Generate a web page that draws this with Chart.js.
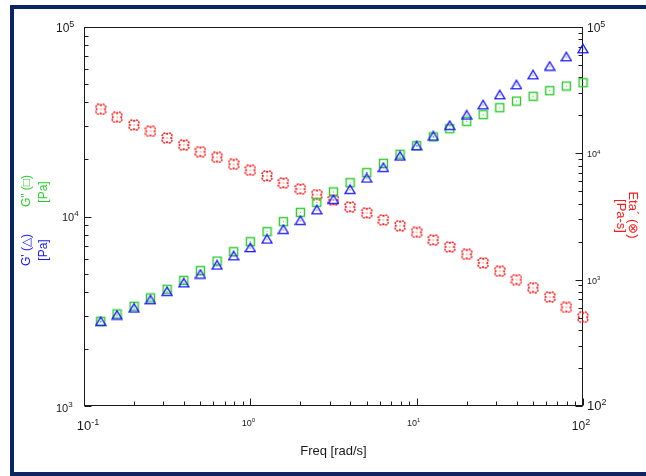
<!DOCTYPE html>
<html>
<head>
<meta charset="utf-8">
<script src="https://cdn.jsdelivr.net/npm/chart.js@4.4.0/dist/chart.umd.min.js"></script>
<style>
    html, body { margin: 0; padding: 0; background: #ffffff; }
    #grafico { display: block; }
</style>
</head>
<body>
<canvas id="grafico" width="646" height="476"></canvas>
<script>
// dados
const frequencias = [0.126, 0.158, 0.2, 0.251, 0.316, 0.398, 0.501, 0.631, 0.794, 1.0,
    1.26, 1.58, 2.0, 2.51, 3.16, 3.98, 5.01, 6.31, 7.94, 10,
    12.6, 15.8, 20, 25.1, 31.6, 39.8, 50.1, 63.1, 79.4, 100];

const gLinha = [2800, 3020, 3290, 3640, 4030, 4470, 4970, 5550, 6210, 6860,
    7610, 8560, 9550, 10860, 12330, 13920, 15970, 18190, 20860, 23640,
    26600, 30290, 34330, 38900, 43950, 49630, 56000, 62250, 69720, 76850];

const gDuasLinhas = [2800, 3060, 3360, 3715, 4130, 4605, 5180, 5820, 6520, 7360,
    8320, 9390, 10520, 11880, 13470, 15080, 17030, 19080, 21290, 23640,
    26290, 29050, 31790, 34470, 37510, 40660, 43080, 46100, 48820, 50820];

const eta = [22300, 19300, 16760, 14950, 13230, 11640, 10300, 9300, 8190, 7340,
    6620, 5820, 5220, 4710, 4270, 3760, 3370, 2970, 2670, 2370,
    2060, 1815, 1588, 1355, 1165, 1000, 864, 729, 604, 504];

const ticksX = [0.1, 1, 10, 100];
const ticksEsquerda = [1000, 10000, 100000];
const ticksDireita = [100, 1000, 10000, 100000];

const AZUL = "#1414ff";
const VERDE = "#2ccc2c";
const VERMELHO = "#ff1a1a";
const MARINHO = "#0b2462";
const FONTE = "'Liberation Sans', Arial, sans-serif";

function pontos(valores) {
    return frequencias.map(function (f, i) {
        return { x: f, y: valores[i] };
    });
}

// simbolos dos pontos
function criarTriangulo() {
    const c = document.createElement("canvas");
    c.width = 12;
    c.height = 11;
    const ctx = c.getContext("2d");
    ctx.strokeStyle = AZUL;
    ctx.lineWidth = 1.3;
    ctx.beginPath();
    ctx.moveTo(6, 1.2);
    ctx.lineTo(1, 9.6);
    ctx.lineTo(11, 9.6);
    ctx.closePath();
    ctx.stroke();
    ctx.fillStyle = AZUL;
    ctx.fillRect(5.5, 5.5, 1, 1);
    return c;
}

function criarQuadrado() {
    const c = document.createElement("canvas");
    c.width = 11;
    c.height = 11;
    const ctx = c.getContext("2d");
    ctx.strokeStyle = VERDE;
    ctx.lineWidth = 1.4;
    ctx.strokeRect(1.5, 1.5, 8, 8);
    ctx.fillStyle = VERDE;
    ctx.fillRect(5, 5, 1, 1);
    return c;
}

function criarTrevo() {
    const c = document.createElement("canvas");
    c.width = 12;
    c.height = 12;
    const ctx = c.getContext("2d");
    ctx.strokeStyle = VERMELHO;
    ctx.lineWidth = 1.5;
    ctx.setLineDash([2, 0.8]);
    const d = 2.1;
    const r = 2.8;
    const meio = Math.sqrt(r * r - d * d);
    const delta = Math.atan2(d + meio, d) - Math.PI / 4 + Math.PI / 2;
    ctx.beginPath();
    [Math.PI / 4, 3 * Math.PI / 4, 5 * Math.PI / 4, 7 * Math.PI / 4].forEach(function (fi) {
        const cx = 6 + Math.cos(fi) * d * Math.SQRT2;
        const cy = 6 + Math.sin(fi) * d * Math.SQRT2;
        ctx.moveTo(cx + r * Math.cos(fi - delta), cy + r * Math.sin(fi - delta));
        ctx.arc(cx, cy, r, fi - delta, fi + delta);
    });
    ctx.stroke();
    ctx.fillStyle = VERMELHO;
    ctx.fillRect(5.5, 5.5, 1, 1);
    return c;
}

function desenharPotencia(ctx, expoente, x, baseLinha, tamanho, alinhamento) {
    const base = "10";
    const sup = String(expoente);
    const tamanhoSup = Math.round(tamanho * 0.72);
    ctx.font = tamanho + "px " + FONTE;
    const larguraBase = ctx.measureText(base).width;
    ctx.font = tamanhoSup + "px " + FONTE;
    const larguraSup = ctx.measureText(sup).width;
    const total = larguraBase + larguraSup;
    let inicio = x;
    if (alinhamento === "center") {
        inicio = x - total / 2;
    } else if (alinhamento === "right") {
        inicio = x - total;
    }
    ctx.textAlign = "left";
    ctx.textBaseline = "alphabetic";
    ctx.font = tamanho + "px " + FONTE;
    ctx.fillText(base, inicio, baseLinha);
    ctx.font = tamanhoSup + "px " + FONTE;
    ctx.fillText(sup, inicio + larguraBase, baseLinha - tamanho * 0.42);
}

function menores(min, max) {
    const lista = [];
    for (let p = Math.round(Math.log10(min)); p < Math.round(Math.log10(max)); p++) {
        for (let k = 2; k <= 9; k++) {
            lista.push(k * Math.pow(10, p));
        }
    }
    return lista;
}

function textoVertical(ctx, texto, x, y, angulo, cor, tamanho) {
    ctx.save();
    ctx.translate(x, y);
    ctx.rotate(angulo);
    ctx.fillStyle = cor;
    ctx.font = tamanho + "px " + FONTE;
    ctx.textAlign = "center";
    ctx.textBaseline = "middle";
    ctx.fillText(texto, 0, 0);
    ctx.restore();
}

const moldura = {
    id: "moldura",
    beforeDraw: function (chart) {
        const ctx = chart.ctx;
        ctx.save();
        ctx.fillStyle = "#ffffff";
        ctx.fillRect(0, 0, chart.width, chart.height);
        ctx.fillStyle = MARINHO;
        ctx.fillRect(10, 5, chart.width - 10, 4);
        ctx.fillRect(10, 5, 4, chart.height - 5);
        ctx.fillRect(10, chart.height - 4, chart.width - 10, 4);
        ctx.restore();
    },
    beforeDatasetsDraw: function (chart) {
        const ctx = chart.ctx;
        const area = chart.chartArea;
        const sx = chart.scales.x;
        const sy = chart.scales.y;
        const sy2 = chart.scales.y2;
        const esq = Math.round(area.left) + 0.5;
        const dir = Math.round(area.right) - 0.5;
        const topo = Math.round(area.top) + 0.5;
        const baixo = Math.round(area.bottom) - 0.5;

        ctx.save();
        ctx.strokeStyle = "#1a1a1a";
        ctx.lineWidth = 1;
        ctx.strokeRect(esq, topo, dir - esq, baixo - topo);

        ctx.beginPath();
        // eixo x
        ticksX.forEach(function (v) {
            const px = Math.round(sx.getPixelForValue(v)) + 0.5;
            ctx.moveTo(px, baixo);
            ctx.lineTo(px, baixo - 7);
        });
        menores(0.1, 100).forEach(function (v) {
            const px = Math.round(sx.getPixelForValue(v)) + 0.5;
            ctx.moveTo(px, baixo);
            ctx.lineTo(px, baixo - 4);
        });
        // eixo esquerdo
        ticksEsquerda.forEach(function (v) {
            const py = Math.round(sy.getPixelForValue(v)) + 0.5;
            ctx.moveTo(esq, py);
            ctx.lineTo(esq + 7, py);
        });
        menores(1000, 100000).forEach(function (v) {
            const py = Math.round(sy.getPixelForValue(v)) + 0.5;
            ctx.moveTo(esq, py);
            ctx.lineTo(esq + 4, py);
        });
        // eixo direito
        ticksDireita.forEach(function (v) {
            const py = Math.round(sy2.getPixelForValue(v)) + 0.5;
            ctx.moveTo(dir, py);
            ctx.lineTo(dir - 7, py);
        });
        menores(100, 100000).forEach(function (v) {
            const py = Math.round(sy2.getPixelForValue(v)) + 0.5;
            ctx.moveTo(dir, py);
            ctx.lineTo(dir - 4, py);
        });
        ctx.stroke();

        // rotulos
        ctx.fillStyle = "#1a1a1a";
        const estiloX = [[13, 24, 4], [9, 20, -2], [9, 20, -3], [12, 24, -2]];
        ticksX.forEach(function (v, i) {
            const e = estiloX[i];
            desenharPotencia(ctx, Math.round(Math.log10(v)), sx.getPixelForValue(v) + e[2], area.bottom + e[1], e[0], "center");
        });
        const estiloEsq = [[11, 6, 56], [11, 4, 62], [12, 5, 56]];
        ticksEsquerda.forEach(function (v, i) {
            const e = estiloEsq[i];
            desenharPotencia(ctx, Math.round(Math.log10(v)), e[2], sy.getPixelForValue(v) + e[1], e[0], "left");
        });
        const estiloDir = [[13, 4], [9, 4], [9, 4], [12, 5]];
        ticksDireita.forEach(function (v, i) {
            const e = estiloDir[i];
            desenharPotencia(ctx, Math.round(Math.log10(v)), area.right + 4, sy2.getPixelForValue(v) + e[1], e[0], "left");
        });

        // titulos dos eixos
        ctx.font = "13px " + FONTE;
        ctx.textAlign = "center";
        ctx.textBaseline = "middle";
        ctx.fillStyle = "#1a1a1a";
        ctx.fillText("Freq [rad/s]", (area.left + area.right) / 2, 451);

        textoVertical(ctx, "G' (\u25B3)", 27, 250, -Math.PI / 2, AZUL, 12);
        textoVertical(ctx, "[Pa]", 44, 250, -Math.PI / 2, AZUL, 12);
        textoVertical(ctx, "G\" (\u25A1)", 27, 191, -Math.PI / 2, VERDE, 12);
        textoVertical(ctx, "[Pa]", 44, 192, -Math.PI / 2, VERDE, 12);
        textoVertical(ctx, "Eta\u00B4 (\u2297)", 633, 215, Math.PI / 2, VERMELHO, 13);
        textoVertical(ctx, "[Pa-s]", 621, 216, Math.PI / 2, VERMELHO, 13);
        ctx.restore();
    }
};

const grafico = document.getElementById("grafico");

new Chart(grafico, {
    type: "scatter",
    data: {
        datasets: [
            {
                label: "G'",
                data: pontos(gLinha),
                yAxisID: "y",
                pointStyle: criarTriangulo(),
                pointRadius: 5,
                clip: false
            },
            {
                label: "G\"",
                data: pontos(gDuasLinhas),
                yAxisID: "y",
                pointStyle: criarQuadrado(),
                pointRadius: 5,
                clip: false
            },
            {
                label: "Eta'",
                data: pontos(eta),
                yAxisID: "y2",
                pointStyle: criarTrevo(),
                pointRadius: 5,
                clip: false
            }
        ]
    },
    options: {
        responsive: false,
        animation: false,
        devicePixelRatio: 1,
        layout: {
            padding: { left: 84, right: 63, top: 27, bottom: 70 }
        },
        plugins: {
            legend: { display: false },
            tooltip: { enabled: false }
        },
        scales: {
            x: {
                type: "logarithmic",
                min: 0.1,
                max: 100,
                display: false
            },
            y: {
                type: "logarithmic",
                position: "left",
                min: 1000,
                max: 100000,
                display: false
            },
            y2: {
                type: "logarithmic",
                position: "right",
                min: 100,
                max: 100000,
                display: false
            }
        }
    },
    plugins: [moldura]
});
</script>
</body>
</html>
